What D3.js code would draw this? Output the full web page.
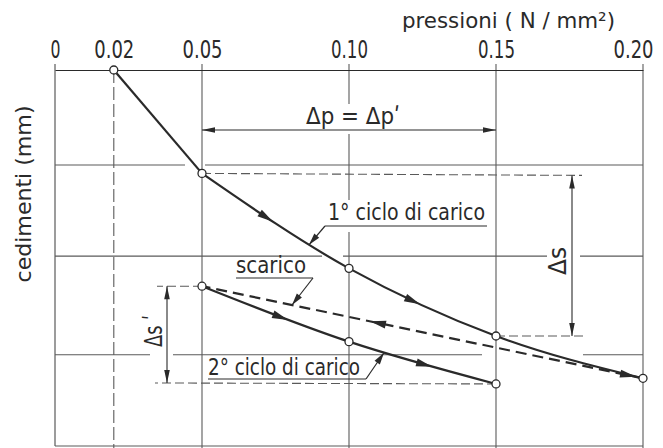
<!DOCTYPE html>
<html>
<head>
<meta charset="utf-8">
<script src="https://cdn.jsdelivr.net/npm/d3@7"></script>
<style>
  html, body { margin: 0; padding: 0; background: #fff; }
  svg text { font-family: "Liberation Sans Narrow", "DejaVu Sans Condensed", "DejaVu Sans", sans-serif; fill: #2a2a2a; }
</style>
</head>
<body>
<svg id="chart" width="663" height="448"></svg>
<script>
// ---- data ----
const xTicks = [0, 0.02, 0.05, 0.10, 0.15, 0.20];
const xTickLabels = ["0", "0.02", "0.05", "0.10", "0.15", "0.20"];
const xGrid = [0.05, 0.10, 0.15, 0.20];
const yGrid = [1.01, 1.98, 3.03];           // horizontal grid lines (settlement units)
const pressures1 = [0.02, 0.05, 0.10, 0.15, 0.20];
const ciclo1 = [0.0, 1.10, 2.11, 2.83, 3.28];      // 1° ciclo di carico
const pressuresScarico = [0.20, 0.05];
const scarico = [3.28, 2.30];                      // scarico (unloading)
const pressures2 = [0.05, 0.10, 0.15];
const ciclo2 = [2.30, 2.89, 3.34];                 // 2° ciclo di carico

const svg = d3.select("#chart");
const W = 663, H = 448;
const x = d3.scaleLinear().domain([0, 0.20]).range([55, 643]);
const y = d3.scaleLinear().domain([0, 4]).range([70, 446]);

const ink = "#2a2a2a", gridC = "#5a5a5a";

function fit(sel, len) {
  sel.attr("textLength", len).attr("lengthAdjust", "spacingAndGlyphs");
  return sel;
}

// ---- frame / grid ----
const g = svg.append("g");
const axis = d3.axisTop(x).tickValues(xTicks).tickSize(0).tickFormat((d, i) => xTickLabels[i]);
const ax = svg.append("g").attr("transform", `translate(0,${y(0)})`).call(axis);
ax.select(".domain").attr("stroke", ink).attr("stroke-width", 1.2);
const tickW = [10, 40, 40, 37, 37, 40];
ax.selectAll("text").attr("font-size", 25).attr("dy", -9).attr("fill", ink)
  .style("font-family", '"Liberation Sans Narrow","DejaVu Sans Condensed","DejaVu Sans",sans-serif')
  .each(function (d, i) {
    const t = d3.select(this);
    fit(t, tickW[i]);
    if (i === xTicks.length - 1) t.attr("text-anchor", "end").attr("x", 10);
  });

g.append("line").attr("x1", x(0)).attr("x2", x(0)).attr("y1", y(0) - 6).attr("y2", y(4)).attr("stroke", gridC).attr("stroke-width", 1.2);
g.append("line").attr("x1", x(0)).attr("x2", x(0.2)).attr("y1", y(4)).attr("y2", y(4)).attr("stroke", gridC).attr("stroke-width", 1.2);

const vGaps = { 0.10: [[104, 134], [200, 232]] };
xGrid.forEach(v => {
  const gaps = vGaps[v] || [];
  let y0 = y(0) - 6;
  const segs = [];
  gaps.forEach(([a, b]) => { segs.push([y0, a]); y0 = b; });
  segs.push([y0, H]);
  segs.forEach(([a, b]) => g.append("line").attr("x1", x(v)).attr("x2", x(v)).attr("y1", a).attr("y2", b)
    .attr("stroke", gridC).attr("stroke-width", 1.1));
});
g.append("line").attr("x1", x(0.02)).attr("x2", x(0.02)).attr("y1", y(0)).attr("y2", H)
  .attr("stroke", gridC).attr("stroke-width", 1.1).attr("stroke-dasharray", "13,4");

const hGaps = [[[185, 205]], [[322, 343], [547, 580]], [[150, 173], [482, 583]]];
yGrid.forEach((v, i) => {
  let x0 = x(0);
  const segs = [];
  hGaps[i].forEach(([a, b]) => { segs.push([x0, a]); x0 = b; });
  segs.push([x0, x(0.2)]);
  segs.forEach(([a, b]) => g.append("line").attr("x1", a).attr("x2", b).attr("y1", y(v)).attr("y2", y(v))
    .attr("stroke", gridC).attr("stroke-width", 1.1));
});

// ---- arrowhead helpers ----
function arrowHead(tx, ty, dx, dy, len = 13, wid = 3.2, color = ink) {
  const L = Math.hypot(dx, dy), ux = dx / L, uy = dy / L;
  const bx = tx - ux * len, by = ty - uy * len;
  const px = -uy * wid, py = ux * wid;
  svg.append("path").attr("d", `M${tx},${ty}L${bx + px},${by + py}L${bx - px},${by - py}Z`).attr("fill", color);
}
function pointAtX(node, xt) {
  const total = node.getTotalLength();
  let lo = 0, hi = total;
  const inc = node.getPointAtLength(total).x > node.getPointAtLength(0).x;
  for (let k = 0; k < 40; k++) {
    const mid = (lo + hi) / 2, p = node.getPointAtLength(mid);
    if ((p.x < xt) === inc) lo = mid; else hi = mid;
  }
  const l = (lo + hi) / 2;
  const p = node.getPointAtLength(l);
  return { x: p.x, y: p.y, l: l, total: total };
}
// arrow on a drawn path at a given pixel x; dir = +1 toward increasing x, -1 toward decreasing
function arrowOnPath(node, xt, dir) {
  const p = pointAtX(node, xt);
  const a = node.getPointAtLength(Math.max(0, p.l - 2)), b = node.getPointAtLength(Math.min(p.total, p.l + 2));
  let dx = b.x - a.x, dy = b.y - a.y;
  if ((dx > 0 ? 1 : -1) !== dir) { dx = -dx; dy = -dy; }
  arrowHead(p.x, p.y, dx, dy, 16, 4);
}

// ---- dimension / extension lines ----
const ext = { stroke: gridC, "stroke-width": 1.1, "stroke-dasharray": "9,4" };
function line(x1, y1, x2, y2, attrs) {
  const l = svg.append("line").attr("x1", x1).attr("y1", y1).attr("x2", x2).attr("y2", y2);
  Object.entries(attrs).forEach(([k, v]) => l.attr(k, v));
  return l;
}
const dsX = 572;
line(x(0.05), y(ciclo1[1]), dsX + 10, y(ciclo1[1]) + 2, ext);
line(x(0.15), y(ciclo1[3]), dsX + 15, y(ciclo1[3]), ext);
line(dsX, y(ciclo1[1]) + 2, dsX, y(ciclo1[3]), { stroke: ink, "stroke-width": 1.1 });
arrowHead(dsX, y(ciclo1[1]) + 2, 0, -1, 13, 2.8);
arrowHead(dsX, y(ciclo1[3]), 0, 1, 13, 2.8);
fit(svg.append("text").attr("transform", `translate(566,${261}) rotate(-90)`).attr("text-anchor", "middle")
  .attr("font-size", 24).text("Δs"), 28);

const ds2X = 167;
line(x(0.05), y(ciclo2[0]), ds2X - 10, y(ciclo2[0]), ext);
line(x(0.15), y(ciclo2[2]), ds2X - 12, y(ciclo2[2]) - 1, ext);
line(ds2X, y(ciclo2[0]), ds2X, y(ciclo2[2]) - 1, { stroke: ink, "stroke-width": 1.1 });
arrowHead(ds2X, y(ciclo2[0]), 0, -1, 13, 2.8);
arrowHead(ds2X, y(ciclo2[2]) - 1, 0, 1, 13, 2.8);
fit(svg.append("text").attr("transform", `translate(162,${331}) rotate(-90)`).attr("text-anchor", "middle")
  .attr("font-size", 24).text("Δs ʹ"), 32);

const dpY = 130;
line(x(0.05), dpY, x(0.15), dpY, { stroke: ink, "stroke-width": 1.1 });
arrowHead(x(0.05), dpY, -1, 0, 13, 2.8);
arrowHead(x(0.15), dpY, 1, 0, 13, 2.8);
fit(svg.append("text").attr("x", 353).attr("y", 124).attr("text-anchor", "middle").attr("font-size", 23).text("Δp = Δpʹ"), 94);

// ---- curves ----
const linLine = d3.line().x(d => x(d[0])).y(d => y(d[1]));
const smoothLine = d3.line().x(d => x(d[0])).y(d => y(d[1])).curve(d3.curveMonotoneX);
const c1 = pressures1.map((p, i) => [p, ciclo1[i]]);
const sc = pressuresScarico.map((p, i) => [p, scarico[i]]);
const c2 = pressures2.map((p, i) => [p, ciclo2[i]]);

const scPath = svg.append("path").attr("d", linLine(sc)).attr("fill", "none").attr("stroke", ink)
  .attr("stroke-width", 2.2).attr("stroke-dasharray", "11,6");
svg.append("path").attr("d", linLine(c1.slice(0, 2))).attr("fill", "none").attr("stroke", ink).attr("stroke-width", 2.2);
const c1Path = svg.append("path").attr("d", smoothLine(c1.slice(1))).attr("fill", "none").attr("stroke", ink).attr("stroke-width", 2.2);
const c2Path = svg.append("path").attr("d", smoothLine(c2)).attr("fill", "none").attr("stroke", ink).attr("stroke-width", 2.2);

arrowOnPath(c1Path.node(), 273, 1);
arrowOnPath(c1Path.node(), 420, 1);
arrowOnPath(scPath.node(), 370, -1);
arrowOnPath(scPath.node(), 636, 1);
arrowOnPath(c2Path.node(), 288, 1);
arrowOnPath(c2Path.node(), 432, 1);

// points
const pts = c1.concat([sc[1]], c2.slice(1));
svg.selectAll("circle.pt").data(pts).join("circle").attr("class", "pt")
  .attr("cx", d => x(d[0])).attr("cy", d => y(d[1])).attr("r", 4)
  .attr("fill", "#fff").attr("stroke", ink).attr("stroke-width", 1.3);

// ---- labels with leaders ----
function label(txt, tx, ty, ulx1, ulx2, uly, from, tip, w) {
  fit(svg.append("text").attr("x", tx).attr("y", ty).attr("font-size", 23).text(txt), w);
  line(ulx1, uly, ulx2, uly, { stroke: ink, "stroke-width": 1.2 });
  const sx = from === "left" ? ulx1 : ulx2;
  line(sx, uly, tip.x, tip.y, { stroke: ink, "stroke-width": 1.2 });
  arrowHead(tip.x, tip.y, tip.x - sx, tip.y - uly, 12, 3.2);
}
label("1° ciclo di carico", 328, 220, 325, 487, 226, "left", pointAtX(c1Path.node(), 309), 157);
label("scarico", 236, 273, 236, 313, 278, "right", pointAtX(scPath.node(), 292), 70);
label("2° ciclo di carico", 208, 375, 208, 366, 379, "right", pointAtX(c2Path.node(), 384), 152);

// ---- axis titles ----
fit(svg.append("text").attr("x", 402).attr("y", 28).attr("font-size", 22)
  .text("pressioni ( N / mm²)"), 213);
fit(svg.append("text").attr("transform", `translate(31,194) rotate(-90)`).attr("text-anchor", "middle")
  .attr("font-size", 22).text("cedimenti  (mm)"), 177);
</script>
</body>
</html>
